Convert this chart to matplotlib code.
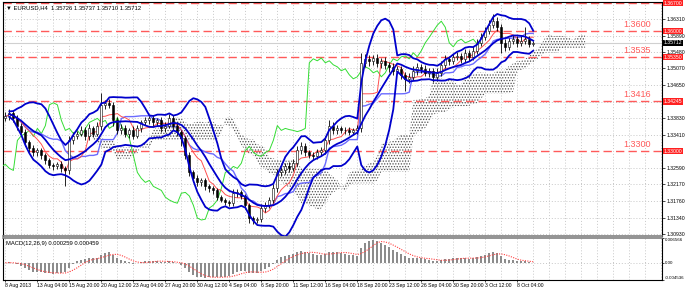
# EURUSD H4 chart in MetaTrader style: candles, Bollinger, Ichimoku, MACD.
import numpy as np
import pandas as pd
import matplotlib
matplotlib.use('Agg')
import matplotlib.pyplot as plt

# closes (one value per 8 hours, i.e. every second H4 bar)
CLOSE = [1.3389, 1.3396, 1.3382, 1.3364, 1.3347, 1.3322, 1.3307, 1.3297, 1.3302, 1.3290,
         1.3277, 1.3265, 1.3262, 1.3267, 1.3257, 1.3252, 1.3327, 1.3339, 1.3344, 1.3352,
         1.3337, 1.3357, 1.3344, 1.3364, 1.3416, 1.3421, 1.3416, 1.3377, 1.3352, 1.3357,
         1.3344, 1.3352, 1.3339, 1.3357, 1.3372, 1.3377, 1.3382, 1.3372, 1.3377, 1.3357,
         1.3364, 1.3384, 1.3364, 1.3347, 1.3332, 1.3290, 1.3247, 1.3232, 1.3222, 1.3227,
         1.3212, 1.3207, 1.3202, 1.3185, 1.3178, 1.3173, 1.3170, 1.3195, 1.3197, 1.3188,
         1.3165, 1.3133, 1.3128, 1.3130, 1.3158, 1.3165, 1.3178, 1.3207, 1.3247, 1.3252,
         1.3262, 1.3257, 1.3270, 1.3302, 1.3312, 1.3297, 1.3290, 1.3287, 1.3297, 1.3302,
         1.3327, 1.3364, 1.3352, 1.3357, 1.3354, 1.3352, 1.3349, 1.3352, 1.3357, 1.3521,
         1.3531, 1.3526, 1.3533, 1.3521, 1.3526, 1.3516, 1.3511, 1.3501, 1.3506, 1.3491,
         1.3481, 1.3486, 1.3501, 1.3511, 1.3506, 1.3496, 1.3501, 1.3486, 1.3496, 1.3516,
         1.3531, 1.3526, 1.3536, 1.3538, 1.3531, 1.3546, 1.3536, 1.3551, 1.3571, 1.3585,
         1.3600, 1.3615, 1.3625, 1.3610, 1.3571, 1.3561, 1.3575, 1.3580, 1.3571, 1.3575,
         1.3580, 1.3568, 1.3571]
FIRST_OPEN = 1.3384
# wick lengths in pips above / below the body
UPPER_WICK = [8, 10, 6, 8, 6, 8, 6, 8, 6, 6,
              6, 6, 5, 6, 8, 6, 10, 8, 6, 10,
              8, 10, 6, 8, 30, 8, 10, 6, 8, 10,
              8, 6, 10, 8, 6, 8, 6, 8, 6, 8,
              10, 8, 6, 8, 6, 6, 8, 6, 8, 6,
              6, 6, 5, 6, 6, 5, 5, 10, 8, 6,
              6, 6, 5, 6, 10, 8, 8, 10, 8, 8,
              8, 10, 10, 12, 10, 8, 6, 8, 8, 8,
              10, 15, 8, 8, 6, 6, 8, 6, 8, 25,
              12, 10, 8, 10, 8, 10, 8, 10, 8, 8,
              8, 10, 12, 10, 8, 10, 8, 8, 12, 10,
              10, 8, 8, 10, 8, 10, 8, 12, 10, 10,
              10, 12, 18, 10, 8, 10, 8, 10, 8, 12,
              30, 8, 5]
LOWER_WICK = [8, 10, 8, 10, 8, 8, 10, 8, 8, 10,
              8, 6, 8, 6, 8, 40, 8, 10, 8, 6,
              10, 8, 8, 6, 10, 10, 8, 15, 10, 8,
              8, 10, 8, 6, 8, 6, 8, 10, 8, 8,
              8, 6, 10, 8, 18, 10, 8, 10, 8, 8,
              8, 10, 8, 8, 6, 8, 8, 8, 10, 8,
              10, 12, 10, 8, 8, 10, 8, 8, 8, 10,
              8, 10, 6, 8, 8, 10, 8, 8, 6, 8,
              8, 10, 8, 10, 8, 8, 8, 8, 10, 8,
              10, 12, 10, 10, 12, 10, 12, 10, 8, 10,
              30, 10, 8, 10, 10, 8, 10, 12, 10, 8,
              8, 10, 8, 8, 10, 8, 10, 8, 8, 8,
              8, 8, 8, 10, 25, 10, 8, 8, 10, 8,
              8, 8, 5]

DATE_LABELS = ['8 Aug 2013', '13 Aug 04:00', '15 Aug 20:00', '20 Aug 12:00', '23 Aug 04:00',
               '27 Aug 20:00', '30 Aug 12:00', '4 Sep 04:00', '6 Sep 20:00', '11 Sep 12:00',
               '16 Sep 04:00', '18 Sep 20:00', '23 Sep 12:00', '26 Sep 04:00', '30 Sep 20:00',
               '3 Oct 12:00', '8 Oct 04:00']
GRID_PRICES = [1.36310, 1.35890, 1.35480, 1.35070, 1.34650, 1.34240, 1.33830, 1.33410,
               1.32590, 1.32170, 1.31760, 1.31340, 1.30930]
# 1.34240 sits under the red 1.34245 box, so it gets a grid line but no label
PRICE_TICKS = [p for p in GRID_PRICES if p != 1.34240]
LEVELS = [1.36700, 1.36000, 1.35350, 1.34245, 1.33000]
LEVEL_NAMES = ['', '1.3600', '1.3535', '1.3416', '1.3300']
BID = 1.35712
MACD_TICKS = [0.006566, 0.0, -0.004536]
MACD_TICK_LABELS = ['0.006566', '0.00', '-0.004536']

plt.rcParams['font.family'] = ['Liberation Sans', 'DejaVu Sans']
plt.rcParams['hatch.linewidth'] = 0.6
FS = 3.7

close = pd.Series(CLOSE)
opn = pd.Series([FIRST_OPEN] + CLOSE[:-1])
high = np.maximum(opn, close) + np.array(UPPER_WICK) / 10000.0
low = np.minimum(opn, close) - np.array(LOWER_WICK) / 10000.0
n = len(close)
x = np.arange(n)

# indicators (periods halved since one bar here is two H4 bars)
mid = close.rolling(10, min_periods=2).mean()
sd = close.rolling(10, min_periods=2).std(ddof=0)
bb_up, bb_dn = mid + 2 * sd, mid - 2 * sd
tenkan = (high.rolling(5, min_periods=1).max() + low.rolling(5, min_periods=1).min()) / 2
kijun = (high.rolling(13, min_periods=1).max() + low.rolling(13, min_periods=1).min()) / 2
span_a = (tenkan + kijun) / 2
span_b = (high.rolling(26, min_periods=1).max() + low.rolling(26, min_periods=1).min()) / 2
shift = 13
xc = np.arange(n) + shift
macd = close.ewm(span=6, adjust=False).mean() - close.ewm(span=13, adjust=False).mean()
signal = macd.rolling(5, min_periods=1).mean()

fig = plt.figure(figsize=(6.85, 2.88), dpi=100)
ax = fig.add_axes([3 / 685, 52 / 288, 659 / 685, 234 / 288])
ax2 = fig.add_axes([3 / 685, 8 / 288, 659 / 685, 42 / 288])

grid_kw = dict(color='#c8c8c8', linestyle=(0, (1, 2)), linewidth=0.7, zorder=0)
for a in (ax, ax2):
    for gx in range(0, 165, 4):
        a.axvline(gx, **grid_kw)
for p in GRID_PRICES:
    ax.axhline(p, **grid_kw)

# cloud
ax.fill_between(xc, span_a, span_b, facecolor='none', edgecolor='#505050',
                hatch='......', linewidth=0, zorder=1)

# levels
for lv, name in zip(LEVELS, LEVEL_NAMES):
    ax.axhline(lv, color='#ff5a5a', linewidth=1.0, dashes=(6, 3), zorder=2)
    if name:
        ax.text(154.5, lv + 0.0011, name, color='#ff5a5a', fontsize=6.5, zorder=5)
ax.axhline(BID, color='#d0d0d0', linewidth=0.8, zorder=1)

ax.plot(x - shift, close, color='#33dd33', linewidth=0.7, zorder=3)
ax.plot(x, kijun, color='#6b6bff', linewidth=1.0, zorder=3)
ax.plot(x, tenkan, color='#ff5050', linewidth=0.7, zorder=3)

# candles
ax.vlines(x, low, high, color='black', linewidth=0.6, zorder=4)
up = close >= opn
ax.bar(x, (close - opn).abs().clip(lower=0.00004), bottom=np.minimum(opn, close), width=0.55,
       color=np.where(up, 'white', 'black'), edgecolor='black', linewidth=0.4, zorder=4)

for band in (bb_up, mid, bb_dn):
    ax.plot(x, band, color='#0000cc', linewidth=1.3, zorder=5)

ax.set_xlim(-0.6, 164.2)
ax.set_ylim(1.3088, 1.3673)
ax.yaxis.tick_right()
ax.set_yticks(PRICE_TICKS)
ax.set_yticklabels(['%.5f' % p for p in PRICE_TICKS])
ax.tick_params(axis='y', labelsize=FS, length=2, pad=1, width=0.5)
ax.set_xticks([])
for s in ax.spines.values():
    s.set_linewidth(0.8)
ax.spines['bottom'].set_color('#808080')
ax.spines['bottom'].set_linewidth(1.2)

tr = ax.get_yaxis_transform()
for lv in LEVELS:
    ax.text(1.003, lv, '%.5f' % lv, transform=tr, fontsize=FS, color='white', va='center',
            bbox=dict(facecolor='#ff2020', edgecolor='none', pad=0.5), zorder=6, clip_on=False)
ax.text(1.003, BID, '%.5f' % BID, transform=tr, fontsize=FS, color='white', va='center',
        bbox=dict(facecolor='black', edgecolor='none', pad=0.5), zorder=6, clip_on=False)

ax.text(0.004, 0.985, '\u25bc EURUSD,H4  1.35726 1.35737 1.35710 1.35712', transform=ax.transAxes,
        fontsize=4.2, va='top', ha='left')

# MACD panel
ax2.axhline(0, color='#c8c8c8', linestyle=(0, (1, 2)), linewidth=0.7, zorder=0)
ax2.bar(x, macd, width=0.45, color='#8c8c8c', zorder=2)
ax2.plot(x, signal, color='#ff4040', linestyle=(0, (1, 1.2)), linewidth=0.8, zorder=3)
ax2.set_xlim(-0.6, 164.2)
ax2.set_ylim(MACD_TICKS[2], MACD_TICKS[0])
ax2.yaxis.tick_right()
ax2.set_yticks(MACD_TICKS)
ax2.set_yticklabels(MACD_TICK_LABELS)
ax2.get_yticklabels()[0].set_va('top')
ax2.get_yticklabels()[2].set_va('bottom')
ax2.tick_params(axis='y', labelsize=3.2, length=1.5, pad=0.8, width=0.5)
ax2.set_xticks(np.arange(len(DATE_LABELS)) * 8)
ax2.set_xticklabels(DATE_LABELS, ha='left')
ax2.tick_params(axis='x', labelsize=FS, length=1.5, pad=0.5, width=0.5)
for s in ax2.spines.values():
    s.set_linewidth(0.8)
ax2.spines['top'].set_color('#808080')
ax2.spines['top'].set_linewidth(1.2)
ax2.text(0.004, 0.93, 'MACD(12,26,9) 0.000259 0.000459', transform=ax2.transAxes,
         fontsize=4.2, va='top', ha='left')

fig.savefig('out.png', dpi=100)
